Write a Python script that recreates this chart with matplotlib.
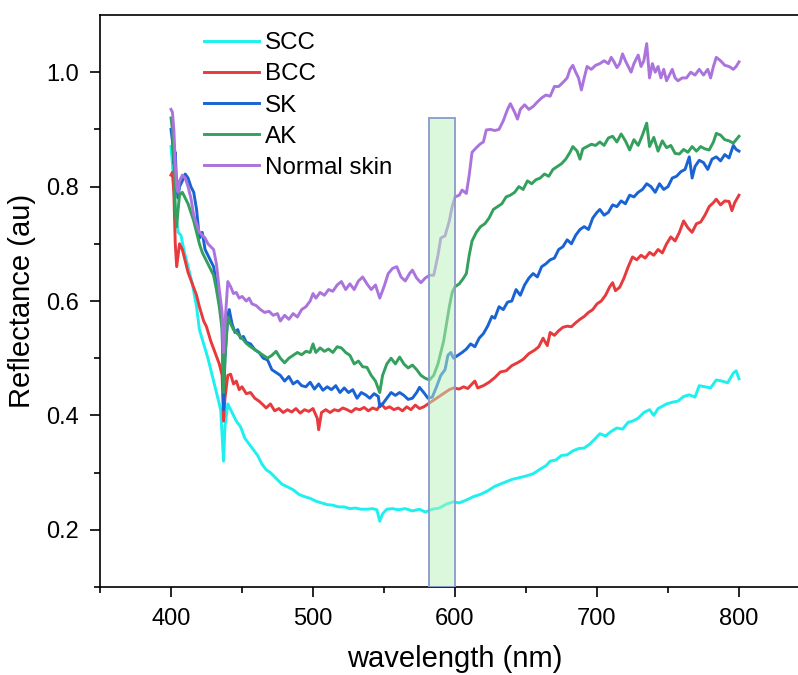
import numpy as np
import matplotlib
matplotlib.use("Agg")
import matplotlib.pyplot as plt
from matplotlib.patches import Rectangle
import matplotlib.ticker as ticker

plt.rcParams['font.family'] = ['Liberation Sans', 'DejaVu Sans']

# wavelength (nm) / reflectance (au)
scc_wl = [400, 401, 403, 405, 407, 409, 412, 415, 418, 420, 423, 426, 430, 433, 435, 437, 438, 440, 443, 446,
          449, 452, 455, 458, 461, 464, 467, 470, 474, 478, 482, 486, 490, 494, 498, 502, 506, 510, 514, 518,
          522, 526, 530, 534, 538, 542, 545, 547, 549, 552, 556, 560, 565, 570, 575, 579, 584, 589, 594, 599,
          603, 608, 613, 618, 623, 628, 632, 636, 640, 645, 650, 655, 660, 664, 667, 671, 675, 679, 683, 687,
          691, 695, 699, 702, 706, 710, 714, 718, 722, 725, 729, 733, 737, 740, 743, 746, 749, 753, 757, 761,
          765, 769, 772, 776, 780, 784, 788, 792, 796, 798, 800]
scc_r = [0.87, 0.84, 0.76, 0.72, 0.715, 0.69, 0.66, 0.63, 0.59, 0.55, 0.525, 0.50, 0.46, 0.43, 0.41, 0.32, 0.38, 0.42, 0.405, 0.39,
         0.38, 0.36, 0.35, 0.34, 0.33, 0.315, 0.305, 0.30, 0.29, 0.28, 0.275, 0.27, 0.262, 0.258, 0.255, 0.25, 0.247, 0.244, 0.243, 0.24,
         0.24, 0.237, 0.238, 0.236, 0.236, 0.237, 0.235, 0.215, 0.228, 0.236, 0.237, 0.235, 0.237, 0.233, 0.236, 0.231, 0.236, 0.238, 0.245, 0.249,
         0.247, 0.252, 0.258, 0.262, 0.268, 0.276, 0.280, 0.284, 0.288, 0.291, 0.294, 0.298, 0.306, 0.312, 0.320, 0.322, 0.330, 0.331, 0.338, 0.342,
         0.343, 0.350, 0.360, 0.368, 0.364, 0.372, 0.378, 0.376, 0.388, 0.390, 0.395, 0.405, 0.410, 0.400, 0.412, 0.416, 0.420, 0.423, 0.425, 0.433,
         0.436, 0.432, 0.452, 0.450, 0.448, 0.462, 0.460, 0.457, 0.474, 0.478, 0.464]

bcc_wl = [400, 401, 402, 403, 404, 405, 406, 408, 410, 412, 415, 418, 420, 423, 425, 428, 431, 434, 436, 437,
          438, 440, 442, 444, 446, 448, 450, 453, 456, 459, 462, 465, 467, 470, 473, 476, 479, 482, 485, 488,
          491, 494, 497, 500, 503, 504, 506, 509, 512, 515, 518, 521, 524, 527, 530, 533, 536, 539, 542, 545,
          548, 551, 554, 557, 560, 563, 566, 569, 572, 575, 578, 581, 584, 587, 590, 593, 596, 599, 603, 606,
          609, 612, 614, 616, 620, 624, 628, 632, 636, 640, 644, 648, 652, 656, 659, 662, 665, 667, 670, 673,
          676, 679, 682, 685, 688, 691, 694, 697, 700, 703, 706, 709, 711, 713, 716, 719, 722, 725, 728, 731,
          734, 737, 740, 743, 746, 749, 752, 755, 758, 761, 764, 767, 770, 773, 776, 779, 782, 784, 787, 790,
          793, 795, 797, 800]
bcc_r = [0.82, 0.825, 0.79, 0.70, 0.66, 0.68, 0.70, 0.69, 0.67, 0.65, 0.63, 0.61, 0.59, 0.565, 0.555, 0.53, 0.51, 0.49, 0.47, 0.39,
         0.43, 0.47, 0.472, 0.455, 0.46, 0.445, 0.45, 0.438, 0.44, 0.43, 0.425, 0.418, 0.413, 0.42, 0.408, 0.412, 0.405, 0.41, 0.406, 0.412,
         0.404, 0.41, 0.407, 0.412, 0.395, 0.375, 0.405, 0.41, 0.405, 0.41, 0.408, 0.413, 0.41, 0.406, 0.412, 0.41, 0.414, 0.408, 0.413, 0.41,
         0.42, 0.412, 0.415, 0.41, 0.413, 0.408, 0.415, 0.41, 0.418, 0.412, 0.415, 0.42, 0.425, 0.43, 0.435, 0.44, 0.445, 0.448, 0.446, 0.45,
         0.447, 0.455, 0.46, 0.448, 0.452, 0.458, 0.466, 0.476, 0.478, 0.487, 0.492, 0.498, 0.508, 0.514, 0.52, 0.535, 0.522, 0.545, 0.54, 0.548,
         0.554, 0.556, 0.555, 0.562, 0.568, 0.573, 0.58, 0.585, 0.595, 0.60, 0.61, 0.625, 0.632, 0.618, 0.624, 0.64, 0.66, 0.677, 0.672, 0.68,
         0.675, 0.685, 0.68, 0.69, 0.684, 0.70, 0.712, 0.705, 0.72, 0.74, 0.728, 0.72, 0.735, 0.738, 0.75, 0.765, 0.772, 0.778, 0.768, 0.775,
         0.774, 0.758, 0.772, 0.785]

sk_wl = [400, 401, 402, 403, 404, 405, 406, 408, 410, 412, 414, 416, 418, 420, 422, 424, 426, 428, 430, 432,
         434, 436, 437, 438, 440, 441, 443, 445, 447, 449, 451, 453, 456, 459, 462, 465, 468, 471, 474, 477,
         480, 483, 486, 489, 492, 495, 498, 501, 504, 507, 510, 513, 516, 519, 522, 525, 528, 531, 534, 537,
         540, 543, 546, 547, 549, 552, 555, 558, 561, 564, 567, 570, 573, 575, 578, 581, 584, 587, 590, 593,
         595, 597, 599, 602, 605, 608, 611, 614, 617, 620, 623, 626, 628, 631, 634, 637, 640, 643, 646, 649,
         652, 655, 658, 661, 664, 667, 670, 673, 676, 679, 682, 685, 688, 691, 694, 697, 700, 702, 705, 708,
         711, 714, 717, 720, 723, 726, 729, 732, 735, 738, 741, 744, 747, 750, 753, 756, 759, 762, 765, 767,
         769, 772, 775, 778, 781, 784, 787, 790, 793, 796, 798, 800]
sk_r = [0.90, 0.88, 0.84, 0.86, 0.80, 0.78, 0.80, 0.81, 0.822, 0.815, 0.80, 0.79, 0.76, 0.71, 0.72, 0.69, 0.68, 0.67, 0.66, 0.63,
        0.60, 0.56, 0.41, 0.50, 0.575, 0.585, 0.56, 0.545, 0.55, 0.535, 0.538, 0.528, 0.525, 0.515, 0.51, 0.50, 0.497, 0.48, 0.475, 0.47,
        0.46, 0.468, 0.455, 0.46, 0.452, 0.45, 0.458, 0.446, 0.455, 0.444, 0.45, 0.445, 0.452, 0.44, 0.448, 0.44, 0.445, 0.43, 0.44, 0.436,
        0.43, 0.438, 0.433, 0.415, 0.42, 0.43, 0.44, 0.435, 0.44, 0.435, 0.428, 0.43, 0.44, 0.449, 0.44, 0.43, 0.432, 0.45, 0.47, 0.48,
        0.505, 0.51, 0.50, 0.505, 0.51, 0.516, 0.525, 0.52, 0.535, 0.543, 0.556, 0.573, 0.57, 0.59, 0.585, 0.598, 0.60, 0.62, 0.61, 0.628,
        0.64, 0.648, 0.642, 0.66, 0.665, 0.672, 0.675, 0.69, 0.695, 0.707, 0.70, 0.715, 0.725, 0.73, 0.725, 0.745, 0.755, 0.76, 0.75, 0.755,
        0.768, 0.765, 0.775, 0.77, 0.785, 0.782, 0.79, 0.795, 0.805, 0.80, 0.79, 0.805, 0.795, 0.80, 0.815, 0.818, 0.826, 0.83, 0.852, 0.815,
        0.835, 0.846, 0.842, 0.83, 0.848, 0.852, 0.845, 0.856, 0.85, 0.872, 0.865, 0.862]

ak_wl = [400, 401, 402, 403, 404, 405, 406, 408, 410, 412, 414, 416, 418, 420, 422, 424, 426, 428, 430, 432,
         434, 436, 437, 438, 440, 442, 444, 446, 448, 450, 453, 456, 459, 462, 465, 468, 471, 474, 477, 480,
         483, 486, 489, 492, 495, 498, 500, 502, 505, 508, 511, 514, 517, 520, 523, 526, 529, 532, 535, 538,
         541, 544, 547, 549, 552, 555, 558, 561, 564, 567, 570, 573, 576, 579, 582, 585, 588, 590, 592, 594,
         596, 598, 600, 603, 606, 608, 610, 612, 615, 618, 621, 624, 627, 630, 633, 636, 639, 642, 645, 648,
         651, 654, 657, 660, 663, 666, 669, 672, 675, 678, 681, 683, 686, 688, 690, 693, 696, 699, 702, 705,
         708, 711, 714, 717, 720, 723, 726, 729, 732, 735, 737, 740, 743, 746, 749, 752, 755, 758, 761, 764,
         767, 770, 773, 776, 779, 782, 784, 787, 790, 793, 796, 798, 800]
ak_r = [0.92, 0.90, 0.85, 0.76, 0.73, 0.76, 0.785, 0.79, 0.78, 0.77, 0.755, 0.74, 0.72, 0.70, 0.685, 0.675, 0.665, 0.655, 0.645, 0.62,
        0.59, 0.55, 0.44, 0.50, 0.572, 0.56, 0.55, 0.545, 0.54, 0.535, 0.526, 0.52, 0.515, 0.51, 0.505, 0.50, 0.505, 0.512, 0.50, 0.492,
        0.50, 0.505, 0.51, 0.506, 0.512, 0.51, 0.525, 0.51, 0.518, 0.512, 0.516, 0.51, 0.52, 0.518, 0.51, 0.505, 0.49, 0.495, 0.485, 0.484,
        0.47, 0.46, 0.44, 0.47, 0.49, 0.50, 0.49, 0.502, 0.49, 0.483, 0.488, 0.48, 0.47, 0.465, 0.462, 0.47, 0.49, 0.51, 0.53, 0.56,
        0.59, 0.615, 0.625, 0.63, 0.64, 0.648, 0.68, 0.705, 0.72, 0.73, 0.735, 0.745, 0.76, 0.765, 0.77, 0.782, 0.785, 0.79, 0.80, 0.795,
        0.81, 0.805, 0.812, 0.815, 0.822, 0.818, 0.83, 0.835, 0.84, 0.848, 0.86, 0.87, 0.862, 0.848, 0.866, 0.87, 0.874, 0.872, 0.878, 0.872,
        0.885, 0.888, 0.878, 0.892, 0.88, 0.864, 0.882, 0.872, 0.89, 0.911, 0.87, 0.886, 0.862, 0.88, 0.868, 0.872, 0.858, 0.857, 0.865, 0.86,
        0.87, 0.862, 0.87, 0.866, 0.864, 0.878, 0.893, 0.89, 0.882, 0.88, 0.876, 0.882, 0.888]

ns_wl = [400, 401, 402, 403, 404, 405, 406, 408, 410, 412, 414, 416, 418, 420, 422, 424, 426, 428, 430, 432,
         434, 436, 437, 438, 440, 442, 444, 446, 448, 450, 453, 455, 457, 460, 463, 466, 469, 472, 475, 477,
         480, 483, 486, 489, 492, 495, 498, 500, 502, 505, 508, 511, 514, 517, 520, 523, 526, 529, 532, 535,
         538, 541, 544, 547, 550, 553, 556, 559, 562, 565, 568, 570, 573, 576, 579, 582, 585, 588, 590, 593,
         596, 598, 600, 603, 605, 608, 610, 612, 615, 618, 620, 622, 625, 628, 631, 634, 637, 639, 642, 644,
         646, 649, 652, 655, 658, 661, 664, 667, 670, 673, 676, 679, 681, 683, 685, 687, 689, 691, 693, 696,
         699, 702, 705, 708, 710, 712, 714, 716, 718, 720, 722, 724, 726, 729, 731, 733, 735, 737, 739, 741,
         743, 745, 747, 749, 751, 753, 755, 757, 760, 763, 766, 769, 772, 775, 778, 780, 782, 784, 787, 790,
         793, 796, 798, 800]
ns_r = [0.935, 0.93, 0.90, 0.84, 0.80, 0.79, 0.81, 0.82, 0.815, 0.80, 0.78, 0.75, 0.735, 0.72, 0.715, 0.71, 0.70, 0.695, 0.69, 0.665,
        0.62, 0.58, 0.51, 0.56, 0.634, 0.625, 0.613, 0.615, 0.605, 0.608, 0.60, 0.605, 0.595, 0.592, 0.585, 0.58, 0.582, 0.575, 0.578, 0.565,
        0.575, 0.568, 0.578, 0.572, 0.585, 0.59, 0.60, 0.613, 0.605, 0.615, 0.61, 0.62, 0.617, 0.628, 0.634, 0.62, 0.63, 0.62, 0.635, 0.642,
        0.63, 0.62, 0.628, 0.605, 0.625, 0.648, 0.657, 0.66, 0.642, 0.635, 0.648, 0.654, 0.64, 0.632, 0.64, 0.645, 0.645, 0.68, 0.71, 0.714,
        0.74, 0.765, 0.782, 0.785, 0.794, 0.788, 0.82, 0.86, 0.868, 0.875, 0.878, 0.899, 0.90, 0.898, 0.90, 0.915, 0.935, 0.945, 0.93, 0.918,
        0.935, 0.943, 0.935, 0.94, 0.948, 0.955, 0.96, 0.958, 0.975, 0.975, 0.982, 0.99, 1.005, 1.012, 1.0, 0.99, 0.969, 0.99, 1.01, 1.005,
        1.012, 1.015, 1.02, 1.015, 1.026, 1.018, 1.008, 1.015, 1.032, 1.02, 1.01, 1.0, 1.015, 1.03, 1.01, 1.02, 1.05, 0.99, 1.015, 1.0,
        1.01, 0.99, 1.005, 0.985, 0.995, 1.005, 0.99, 0.985, 0.99, 0.99, 1.0, 0.995, 1.005, 0.995, 1.005, 0.99, 1.01, 1.026, 1.02, 1.012,
        1.01, 1.005, 1.01, 1.018]

series_names = ["SCC", "BCC", "SK", "AK", "Normal skin"]
series_colors = ["#1ef0f0", "#e8393c", "#1a63d5", "#34a05e", "#ab73dc"]

# highlighted band
band_start, band_end, band_top = 582, 600, 0.92

fig = plt.figure(figsize=(7.98, 6.75), dpi=100)
ax = fig.add_axes([100 / 798, 88 / 675, 710 / 798, 572 / 675])

all_wl = [scc_wl, bcc_wl, sk_wl, ak_wl, ns_wl]
all_r = [scc_r, bcc_r, sk_r, ak_r, ns_r]
for wl, r, name, c in zip(all_wl, all_r, series_names, series_colors):
    ax.plot(wl, r, color=c, lw=2.1, label=name)

ax.add_patch(Rectangle((band_start, 0.1), band_end - band_start, band_top - 0.1,
                       facecolor="#bbf3bb", alpha=0.5, edgecolor="none", zorder=5))
ax.add_patch(Rectangle((band_start, 0.1), band_end - band_start, band_top - 0.1,
                       facecolor="none", edgecolor="#8a9acb", lw=1.3, zorder=6))

ax.set_xlim(350, 850)
ax.set_ylim(0.1, 1.1)
ax.xaxis.set_major_locator(ticker.MultipleLocator(100))
ax.xaxis.set_minor_locator(ticker.MultipleLocator(50))
ax.yaxis.set_major_locator(ticker.FixedLocator([0.2, 0.4, 0.6, 0.8, 1.0]))
ax.yaxis.set_minor_locator(ticker.FixedLocator([0.1, 0.3, 0.5, 0.7, 0.9]))
ax.yaxis.set_major_formatter(ticker.FormatStrFormatter("%.1f"))
ax.tick_params(which="major", direction="out", length=7.2, width=1.2, labelsize=17, pad=8)
ax.tick_params(which="minor", direction="out", length=4.3, width=1.2)
ax.tick_params(top=False, right=False)
for s in ax.spines.values():
    s.set_linewidth(1.2)
ax.spines["right"].set_visible(False)

ax.set_xlabel("wavelength (nm)", fontsize=21, labelpad=11)
ax.set_ylabel("Reflectance (au)", fontsize=21, labelpad=7)

ax.legend(loc="upper left", bbox_to_anchor=(0.146, 0.97), frameon=False, fontsize=17.4,
          handlelength=2.27, handletextpad=0.25, labelspacing=0.38, borderpad=0, borderaxespad=0)

fig.savefig("out.png", dpi=100)
